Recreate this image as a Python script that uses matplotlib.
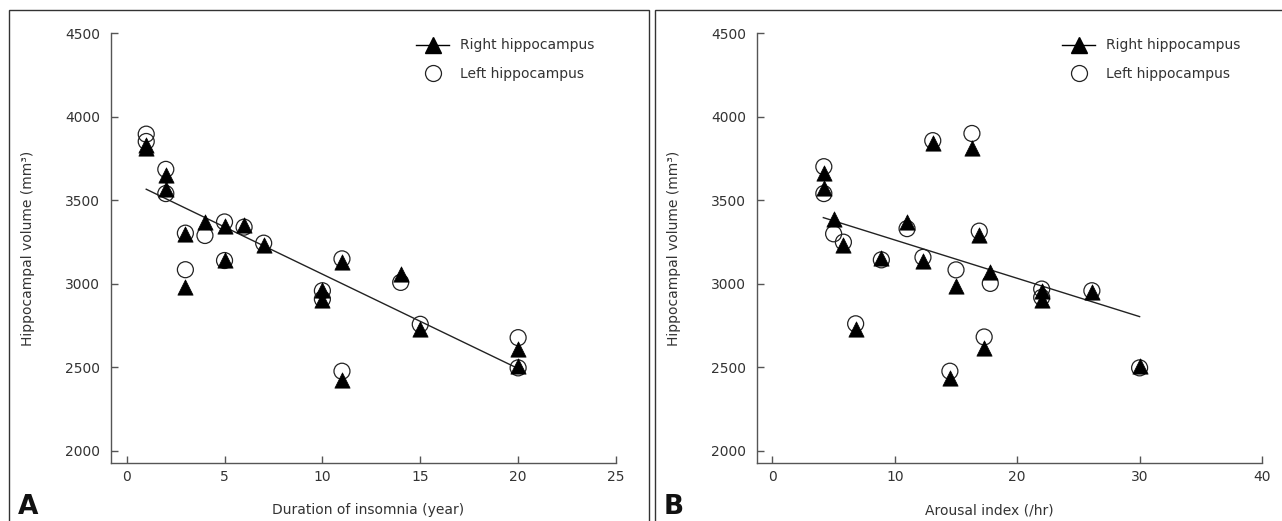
import matplotlib
matplotlib.use("Agg")
import matplotlib.pyplot as plt
from matplotlib.lines import Line2D
from matplotlib.patches import Rectangle

# Panel A: duration of insomnia vs hippocampal volume
duration = [1, 1, 2, 2, 3, 3, 4, 5, 5, 6, 7, 10, 10, 11, 11, 14, 15, 20, 20]
right_a = [3830, 3810, 3650, 3570, 3300, 2978, 3370, 3343, 3145, 3349, 3229,
           2960, 2900, 3128, 2426, 3058, 2727, 2607, 2506]
left_a = [3896, 3852, 3685, 3540, 3303, 3084, 3289, 3370, 3139, 3339, 3243,
          2958, 2908, 3149, 2476, 3008, 2757, 2677, 2496]
fit_a_x = [1, 20]
fit_a_y = [3566, 2492]

# Panel B: arousal index vs hippocampal volume
arousal = [4.2, 4.2, 5.0, 5.8, 6.8, 8.9, 11.0, 12.3, 13.1, 14.5, 15.0, 16.3,
           16.9, 17.3, 17.8, 22.0, 22.0, 26.1, 30.0]
right_b = [3665, 3576, 3390, 3229, 2727, 3155, 3370, 3135, 3841, 2436, 2984,
           3811, 3289, 2617, 3068, 2958, 2900, 2948, 2506]
left_b = [3701, 3540, 3299, 3249, 2760, 3143, 3330, 3158, 3857, 2476, 3083,
          3900, 3315, 2681, 3002, 2968, 2918, 2958, 2496]
fit_b_x = [4.16, 30]
fit_b_y = [3396, 2803]

y_ticks = [2000, 2500, 3000, 3500, 4000, 4500]
xticks_a = [0, 5, 10, 15, 20, 25]
xticks_b = [0, 10, 20, 30, 40]

TXT = "#333333"
SPINE = "#555555"
plt.rcParams["font.family"] = ["DejaVu Sans"]
plt.rcParams["font.size"] = 10

W, H = 1282, 521
fig = plt.figure(figsize=(W / 100, H / 100), dpi=100)


def fx(px):
    return px / W


def fy(py):
    return 1 - py / H


# panel frames (open at the bottom, cut by the image edge)
for x0, x1 in [(9, 649), (655, 1300)]:
    fig.add_artist(Rectangle((fx(x0), fy(560)), fx(x1 - x0), (560 - 10) / H,
                             transform=fig.transFigure, fill=False,
                             ec="#333333", lw=1.0, clip_on=False))

panels = [
    (111, duration, right_a, left_a, fit_a_x, fit_a_y, xticks_a, (-0.8, 25),
     "Duration of insomnia (year)", 0.51, "A", 18),
    (757, arousal, right_b, left_b, fit_b_x, fit_b_y, xticks_b, (-1.26, 40),
     "Arousal index (/hr)", 0.46, "B", 664),
]

for left, xs, rv, lv, fxs, fys, xt, xl, xlab, xlab_pos, tag, tag_x in panels:
    ax = fig.add_axes([fx(left), fy(462.7), fx(505), (462.7 - 33.3) / H])
    ax.plot(fxs, fys, color="#222222", lw=1.0, zorder=2)
    ax.scatter(xs, lv, s=11.5 ** 2, marker="o", facecolors="none",
               edgecolors="#222222", linewidths=0.9, zorder=3)
    ax.scatter(xs, rv, s=11 ** 2, marker="^", facecolors="black",
               edgecolors="black", linewidths=0.5, zorder=4)
    ax.set_xlim(*xl)
    ax.set_ylim(1928, 4500)
    ax.set_xticks(xt)
    ax.set_yticks(y_ticks)
    for s in ["top", "right"]:
        ax.spines[s].set_visible(False)
    for s in ["left", "bottom"]:
        ax.spines[s].set_color(SPINE)
        ax.spines[s].set_linewidth(1.0)
    ax.tick_params(direction="in", length=5, width=1.0, color=SPINE,
                   labelcolor=TXT, labelsize=10)
    ax.tick_params(axis="y", pad=8)
    ax.tick_params(axis="x", pad=5)
    ax.set_ylabel("Hippocampal volume (mm\u00b3)", color=TXT, fontsize=10)
    ax.yaxis.set_label_coords(-0.150, 0.5)
    ax.set_xlabel(xlab, color=TXT, fontsize=10)
    ax.xaxis.set_label_coords(xlab_pos, -0.094)

    handles = [
        Line2D([], [], color="black", lw=1.0, marker="^", ms=11,
               mfc="black", mec="black"),
        Line2D([], [], ls="none", marker="o", ms=11.5, mfc="none",
               mec="#222222", mew=0.9),
    ]
    leg = ax.legend(handles, ["Right hippocampus", "Left hippocampus"],
                    loc="upper left", bbox_to_anchor=(0.604, 0.988),
                    frameon=False, borderpad=0, borderaxespad=0,
                    handlelength=2.4, handletextpad=0.8, labelspacing=1.05,
                    numpoints=1, fontsize=10)
    for t in leg.get_texts():
        t.set_color(TXT)

    fig.text(fx(tag_x), fy(520), tag, fontsize=19, fontweight="bold",
             color="#111111", va="bottom", ha="left")

fig.savefig("out.png", dpi=100)
